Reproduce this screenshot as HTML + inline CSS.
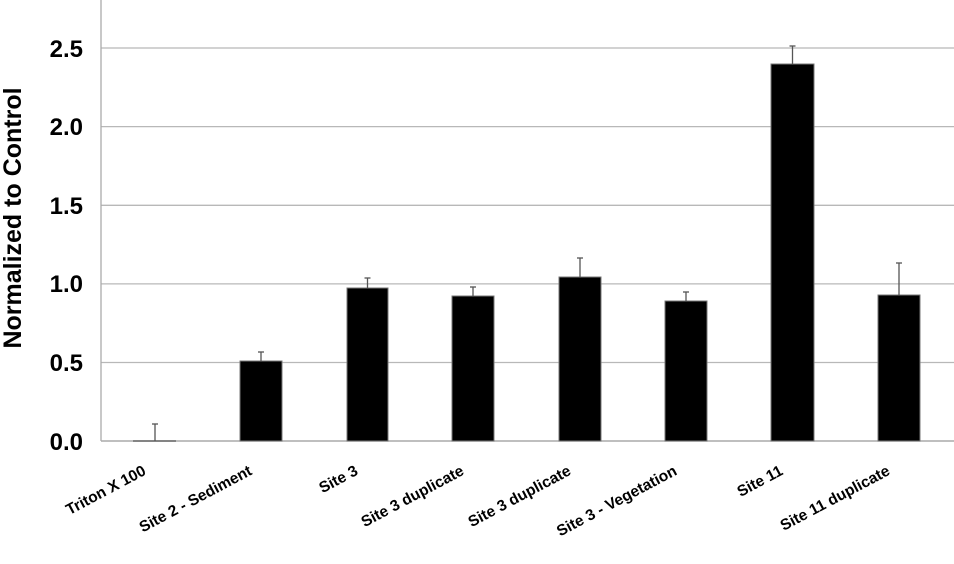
<!DOCTYPE html>
<html><head><meta charset="utf-8"><style>
html,body{margin:0;padding:0;background:#fff;}
svg{display:block;}
</style></head><body>
<svg width="954" height="564" viewBox="0 0 954 564" xmlns="http://www.w3.org/2000/svg" font-family="Liberation Sans, Arial, sans-serif">
<g stroke="#b8b8b8" stroke-width="1.3">
<line x1="101" y1="48" x2="954" y2="48"/>
<line x1="101" y1="126.6" x2="954" y2="126.6"/>
<line x1="101" y1="205.3" x2="954" y2="205.3"/>
<line x1="101" y1="283.9" x2="954" y2="283.9"/>
<line x1="101" y1="362.5" x2="954" y2="362.5"/>
<line x1="101" y1="441" x2="954" y2="441" stroke="#aaa" stroke-width="1.6"/>
<line x1="101" y1="0" x2="101" y2="441" stroke="#aaa"/>
</g>
<g font-size="24" font-weight="bold" text-anchor="end" fill="#000">
<text x="83" y="57">2.5</text>
<text x="83" y="135">2.0</text>
<text x="83" y="214">1.5</text>
<text x="83" y="292">1.0</text>
<text x="83" y="371">0.5</text>
<text x="83" y="450">0.0</text>
</g>
<text transform="translate(21,218) rotate(-90)" text-anchor="middle" font-size="25" font-weight="bold">Normalized to Control</text>
<g fill="#000" stroke="#777" stroke-width="1">
<rect x="240" y="361" width="42" height="80"/>
<rect x="347" y="288" width="41" height="153"/>
<rect x="452" y="296" width="42" height="145"/>
<rect x="559" y="277" width="42" height="164"/>
<rect x="665" y="301" width="42" height="140"/>
<rect x="771" y="64" width="43" height="377"/>
<rect x="878" y="295" width="42" height="146"/>
</g>
<line x1="133" y1="441" x2="176" y2="441" stroke="#555" stroke-width="1.2"/>
<g stroke="#555" stroke-width="1.3">
<line x1="155" y1="424" x2="155" y2="441"/><line x1="152" y1="424" x2="158" y2="424"/>
<line x1="261" y1="352" x2="261" y2="361"/><line x1="258" y1="352" x2="264" y2="352"/>
<line x1="367.5" y1="278" x2="367.5" y2="288"/><line x1="364.5" y1="278" x2="370.5" y2="278"/>
<line x1="473" y1="287" x2="473" y2="296"/><line x1="470" y1="287" x2="476" y2="287"/>
<line x1="580" y1="258" x2="580" y2="277"/><line x1="577" y1="258" x2="583" y2="258"/>
<line x1="686" y1="292" x2="686" y2="301"/><line x1="683" y1="292" x2="689" y2="292"/>
<line x1="792.5" y1="46" x2="792.5" y2="64"/><line x1="789.5" y1="46" x2="795.5" y2="46"/>
<line x1="899" y1="263" x2="899" y2="295"/><line x1="896" y1="263" x2="902" y2="263"/>
</g>
<g font-size="15.5" font-weight="bold" text-anchor="end" fill="#000">
<text transform="translate(147,474) rotate(-28)">Triton X 100</text>
<text transform="translate(253,474) rotate(-28)">Site 2 - Sediment</text>
<text transform="translate(359,474) rotate(-28)">Site 3</text>
<text transform="translate(465,474) rotate(-28)">Site 3 duplicate</text>
<text transform="translate(572,474) rotate(-28)">Site 3 duplicate</text>
<text transform="translate(678,474) rotate(-28)">Site 3 - Vegetation</text>
<text transform="translate(784,474) rotate(-28)">Site 11</text>
<text transform="translate(891,474) rotate(-28)">Site 11 duplicate</text>
</g>
</svg>
</body></html>
